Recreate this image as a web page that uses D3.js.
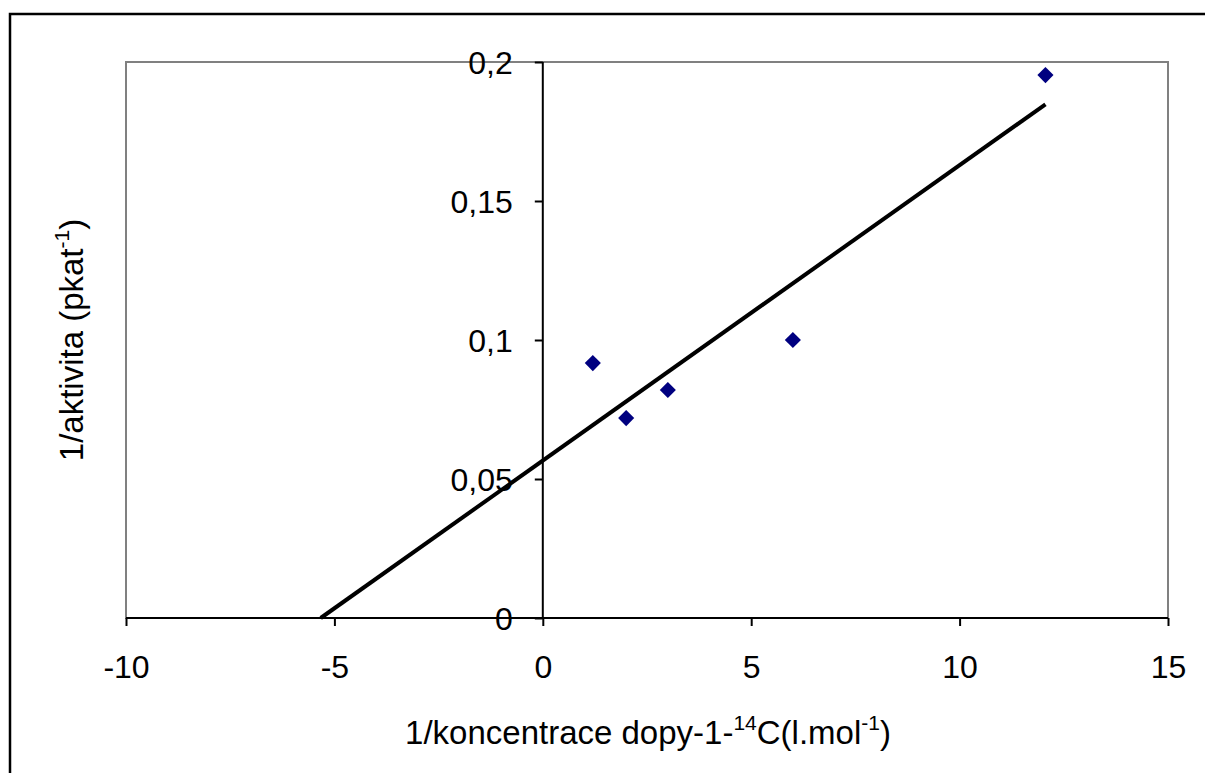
<!DOCTYPE html>
<html><head><meta charset="utf-8">
<script src="https://cdn.jsdelivr.net/npm/d3@7"></script>
<style>
html,body{margin:0;padding:0;background:#fff;overflow:hidden}
text{font-family:Arial,"Liberation Sans",sans-serif;fill:#000}
</style></head>
<body>
<svg id="chart" width="1205" height="773"></svg>
<script>
// Data
const xValues = [1.2, 2.0, 3.0, 6.0, 12.06];
const yValues = [0.0917, 0.0719, 0.082, 0.100, 0.1953];
const xTicks = [-10, -5, 0, 5, 10, 15];
const yTicks = [0, 0.05, 0.1, 0.15, 0.2];

(function(){
const svg = d3.select("#chart");
const pL = 126, pR = 1168, pT = 62, pB = 618;
const FS = 32, TFS = 33, SUP = 21;
const x = d3.scaleLinear().domain([-10, 15]).range([pL, pR]);
const y = d3.scaleLinear().domain([0, 0.2]).range([pB, pT]);
const fmt = v => String(v).replace(".", ",");

// outer frame
svg.append("rect").attr("x", 10).attr("y", 14).attr("width", 1300).attr("height", 900)
  .attr("fill", "none").attr("stroke", "#000").attr("stroke-width", 2.5);

// plot area border
svg.append("rect").attr("x", pL).attr("y", pT).attr("width", pR - pL).attr("height", pB - pT)
  .attr("fill", "none").attr("stroke", "#808080").attr("stroke-width", 2);

// x axis at y=0
const xAxis = d3.axisBottom(x).tickValues(xTicks).tickSize(8).tickFormat(d => d);
const gx = svg.append("g").attr("transform", `translate(0,${y(0)})`).call(xAxis);
gx.attr("font-family", null).attr("font-size", null);
gx.select(".domain").attr("stroke", "#000").attr("stroke-width", 2).attr("d", `M${pL},0H${pR}`);
gx.selectAll(".tick line").attr("stroke", "#000").attr("stroke-width", 2);
gx.selectAll(".tick text").attr("font-size", FS).attr("fill", "#000").attr("dy", null).attr("y", 60);

// y axis at x=0
const yAxis = d3.axisLeft(y).tickValues(yTicks).tickSize(8).tickFormat(fmt);
const gy = svg.append("g").attr("transform", `translate(${x(0)},0)`).call(yAxis);
gy.attr("font-family", null).attr("font-size", null);
gy.select(".domain").attr("stroke", "#000").attr("stroke-width", 2).attr("d", `M0,${pT}V${pB}`);
gy.selectAll(".tick line").attr("stroke", "#000").attr("stroke-width", 2);
gy.selectAll(".tick text").attr("font-size", FS).attr("fill", "#000").attr("x", -30).attr("dy", "0.35em");

// linear regression trendline, backward-extended to y=0
const n = xValues.length;
const mx = d3.mean(xValues), my = d3.mean(yValues);
let sxy = 0, sxx = 0;
for (let i = 0; i < n; i++) { sxy += (xValues[i]-mx)*(yValues[i]-my); sxx += (xValues[i]-mx)**2; }
const slope = sxy / sxx, intercept = my - slope * mx;
const x0 = -intercept / slope, x1 = d3.max(xValues);
svg.append("line")
  .attr("x1", x(x0)).attr("y1", y(slope*x0+intercept))
  .attr("x2", x(x1)).attr("y2", y(slope*x1+intercept))
  .attr("stroke", "#000").attr("stroke-width", 4);

// points (diamonds)
const sym = d3.symbol().type(d3.symbolSquare).size(130);
svg.append("g").selectAll("path").data(xValues.map((v,i)=>[v,yValues[i]])).join("path")
  .attr("d", sym)
  .attr("transform", d => `translate(${x(d[0])},${y(d[1])}) rotate(45)`)
  .attr("fill", "#000080");

// axis titles
const xt = svg.append("text").attr("x", 648).attr("y", 744).attr("text-anchor", "middle").attr("font-size", TFS);
xt.append("tspan").text("1/koncentrace dopy-1-");
xt.append("tspan").attr("font-size", SUP).attr("dy", -14).text("14");
xt.append("tspan").attr("dy", 14).text("C(l.mol");
xt.append("tspan").attr("font-size", SUP).attr("dy", -14).text("-1");
xt.append("tspan").attr("dy", 14).text(")");

const yt = svg.append("text").attr("transform", "translate(83,340) rotate(-90)").attr("text-anchor", "middle").attr("font-size", TFS);
yt.append("tspan").text("1/aktivita (pkat");
yt.append("tspan").attr("font-size", SUP).attr("dy", -14).text("-1");
yt.append("tspan").attr("dy", 14).text(")");
})();
</script>
</body></html>
